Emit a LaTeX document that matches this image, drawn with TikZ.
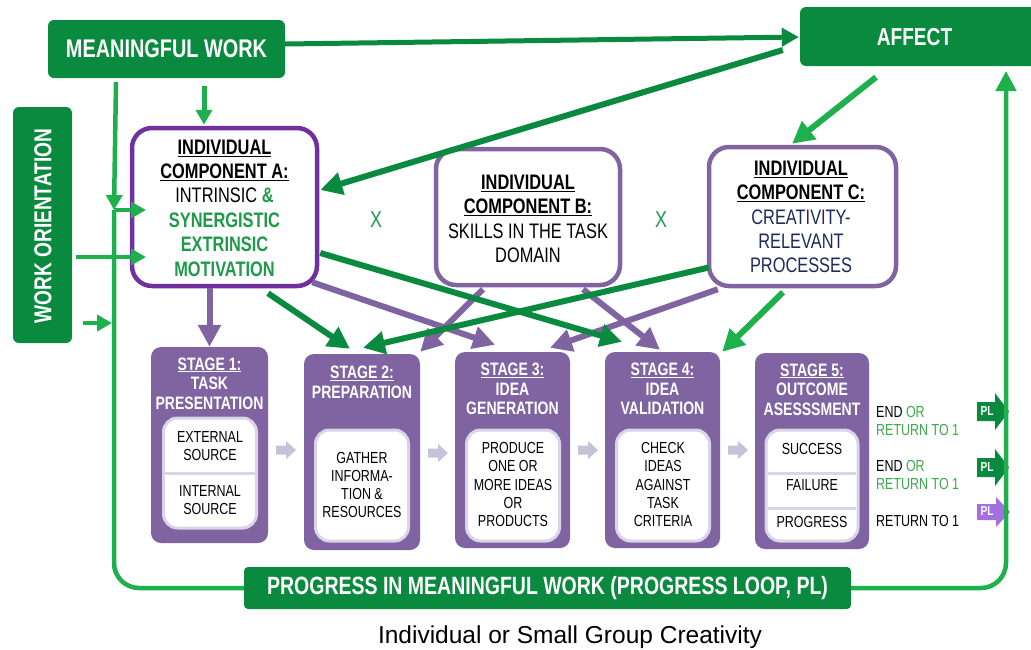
\documentclass[tikz,border=0pt]{standalone}
\usepackage{fontspec}
\setmainfont{Liberation Sans}
\newfontfamily\cf{Liberation Sans}[FakeStretch=0.78]
\usetikzlibrary{arrows.meta,calc}
\definecolor{dg}{HTML}{0A8A3F}
\definecolor{bg}{HTML}{1DB04C}
\definecolor{pu}{HTML}{8064A2}
\definecolor{dpu}{HTML}{7030A0}
\definecolor{lav}{HTML}{DAD4E8}
\definecolor{sar}{HTML}{C8C2D8}
\definecolor{navy}{HTML}{1F2A5C}
\definecolor{tg}{HTML}{1F9A4A}
\definecolor{og}{HTML}{3BAA4A}
\definecolor{vio}{HTML}{A46FE0}
\newcommand\fntA{\cf\fontsize{21}{24.4}\selectfont}
\newcommand\fntS{\cf\bfseries\fontsize{18}{19.6}\selectfont}
\newcommand\fntI{\cf\fontsize{16}{18.2}\selectfont}
\newcommand\fntR{\cf\fontsize{16}{18}\selectfont}
\newcommand\bu[1]{{\bfseries\underline{#1}}}
\newcommand\gb[1]{{\color{tg}\bfseries #1}}
\newcommand\nv[1]{{\color{navy}#1}}
\begin{document}
\begin{tikzpicture}[x=1pt,y=-1pt,
  gbox/.style={fill=dg, rounded corners=6pt, inner sep=0, text=white},
  comp/.style={draw=pu, line width=4.5pt, fill=white, rounded corners=20pt, inner sep=0},
  stagebox/.style={fill=pu, rounded corners=10pt, inner sep=0, minimum width=115pt, minimum height=196pt},
  inbox/.style={draw=lav, line width=3pt, fill=white, rounded corners=14pt, inner sep=0, minimum width=93pt},
  txt/.style={inner sep=0, align=center},
  sttxt/.style={txt, font=\fntS, text=white},
  intxt/.style={txt, font=\fntI},
  rtxt/.style={inner sep=0, anchor=west, font=\fntR},
  divline/.style={draw=lav, line width=3pt},
  parr/.style={draw=pu, line width=6pt, -{Triangle[length=22pt,width=22pt]}},
  garr/.style={draw=dg, line width=6pt, -{Triangle[length=22pt,width=22pt]}},
  loopline/.style={draw=bg, line width=4.5pt},
  larr/.style={draw=bg, line width=4.5pt, -{Triangle[length=15pt,width=16pt]}},
  sarrow/.style={fill=sar},
  pltxt/.style={inner sep=0, text=white, font=\cf\bfseries\fontsize{13}{15}\selectfont},
]
\useasboundingbox (0,0) rectangle (1031,649);
\clip (0,0) rectangle (1031,649);
\fill[white] (0,0) rectangle (1031,649);

% ---------- green boxes
\node[gbox, minimum width=237pt, minimum height=58pt, font=\cf\bfseries\fontsize{25.5}{28}\selectfont] (mw) at (166.5,49) {MEANINGFUL WORK};
\node[gbox, minimum width=240pt, minimum height=59pt] (af) at (920,36.5) {};
\node[inner sep=0, text=white, font=\cf\bfseries\fontsize{24.5}{28}\selectfont] (aft) at (914.5,37) {AFFECT};
\node[gbox, minimum width=59pt, minimum height=236pt] (wo) at (42.5,225) {};
\node[inner sep=0, text=white, rotate=90, font=\cf\bfseries\fontsize{24.5}{28}\selectfont] (wot) at (43,226) {WORK ORIENTATION};
\node[gbox, rounded corners=4pt, minimum width=607pt, minimum height=42pt, font=\cf\bfseries\fontsize{25}{28}\selectfont] (bar) at (547.5,588) {PROGRESS IN MEANINGFUL WORK (PROGRESS LOOP, PL)};

% ---------- components
\node[comp, draw=dpu, minimum width=185pt, minimum height=158pt] (A) at (224.5,207) {};
\node[comp, minimum width=184pt, minimum height=136pt] (B) at (528,217) {};
\node[comp, minimum width=187pt, minimum height=139pt] (C) at (802.5,216.5) {};

\node[txt, font=\fntA] (At) at (224.5,208) {\bu{INDIVIDUAL}\\\bu{COMPONENT A:}\\INTRINSIC \gb{\&}\\\gb{SYNERGISTIC}\\\gb{EXTRINSIC}\\\gb{MOTIVATION}};
\node[txt, font=\fntA] (Bt) at (528,219) {\bu{INDIVIDUAL}\\\bu{COMPONENT B:}\\SKILLS IN THE TASK\\DOMAIN};
\node[txt, font=\fntA] (Ct) at (801,217) {\bu{INDIVIDUAL}\\\bu{COMPONENT C:}\\\nv{CREATIVITY-}\\\nv{RELEVANT}\\\nv{PROCESSES}};

\node[inner sep=0, text=tg, font=\cf\fontsize{23}{26}\selectfont] (x1) at (376,220) {X};
\node[inner sep=0, text=tg, font=\cf\fontsize{23}{26}\selectfont] (x2) at (661,220) {X};

% ---------- stages
\node[stagebox, minimum width=117pt] (s1) at (209.5,445) {};
\node[stagebox, minimum width=116pt] (s2) at (362,452) {};
\node[stagebox] (s3) at (512.5,450) {};
\node[stagebox] (s4) at (662.5,450) {};
\node[stagebox, minimum width=114pt] (s5) at (812,451) {};

\node[sttxt] (s1t) at (209.5,383.5) {\underline{STAGE 1:}\\TASK\\PRESENTATION};
\node[sttxt] (s2t) at (362,382) {\underline{STAGE 2:}\\PREPARATION};
\node[sttxt] (s3t) at (512.5,389) {\underline{STAGE 3:}\\IDEA\\GENERATION};
\node[sttxt] (s4t) at (662.5,389) {\underline{STAGE 4:}\\IDEA\\VALIDATION};
\node[sttxt] (s5t) at (812,389.5) {\underline{STAGE 5:}\\OUTCOME\\ASESSSMENT};

\node[inbox, minimum height=110pt] (i1) at (210,473) {};
\node[inbox, minimum height=111pt] (i2) at (362,485.5) {};
\node[inbox, minimum height=111pt] (i3) at (513,485.5) {};
\node[inbox, minimum height=111pt] (i4) at (663,485.5) {};
\node[inbox, minimum height=111pt, minimum width=92pt] (i5) at (812,485.5) {};
\draw[divline] (165,473) -- (255,473);
\draw[divline] (768,473) -- (856,473);
\draw[divline] (768,508) -- (856,508);

\node[intxt] (i1a) at (210,446) {EXTERNAL\\SOURCE};
\node[intxt] (i1b) at (210,500) {INTERNAL\\SOURCE};
\node[intxt] (i2t) at (362,485) {GATHER\\INFORMA-\\TION \&\\RESOURCES};
\node[intxt] (i3t) at (513,484.5) {PRODUCE\\ONE OR\\MORE IDEAS\\OR\\PRODUCTS};
\node[intxt] (i4t) at (663,484.5) {CHECK\\IDEAS\\AGAINST\\TASK\\CRITERIA};
\node[intxt] (i5a) at (812,449) {SUCCESS};
\node[intxt] (i5b) at (812,485) {FAILURE};
\node[intxt] (i5c) at (812,522) {PROGRESS};

% small arrows between stages
\foreach \ax/\ay in {276/450, 428/453, 578/450, 728/450}{
  \fill[sarrow] (\ax,\ay-4.5) -- (\ax+10,\ay-4.5) -- (\ax+10,\ay-9) -- (\ax+20,\ay) -- (\ax+10,\ay+9) -- (\ax+10,\ay+4.5) -- (\ax,\ay+4.5) -- cycle;
}

% ---------- right texts and PL arrows
\node[rtxt] (r1a) at (876,412) {END \textcolor{og}{OR}};
\node[rtxt, text=og] (r1b) at (876,430) {RETURN TO 1};
\node[rtxt] (r2a) at (876,466) {END \textcolor{og}{OR}};
\node[rtxt, text=og] (r2b) at (876,484) {RETURN TO 1};
\node[rtxt] (r3) at (876,521) {RETURN TO 1};

\fill[dg] (977,402) -- (995,402) -- (995,393) -- (1009,411.5) -- (995,430) -- (995,421) -- (977,421) -- cycle;
\fill[dg] (977,458) -- (995,458) -- (995,449) -- (1009,467.5) -- (995,486) -- (995,477) -- (977,477) -- cycle;
\fill[vio] (977,504) -- (996,504) -- (996,497) -- (1010,512) -- (996,527) -- (996,520) -- (977,520) -- cycle;
\node[pltxt] (pl1) at (987,411) {PL};
\node[pltxt] (pl2) at (987,467) {PL};
\node[pltxt] (pl3) at (987,511) {PL};

% ---------- caption
\node[inner sep=0, anchor=base, font=\fontsize{24.5}{28}\selectfont] (cap) at (570,643) {Individual or Small Group Creativity};

% ---------- coordinates
\coordinate (lc) at (114,210);
\coordinate (ain1) at (146,210);
\coordinate (ain2) at (146,257);
\coordinate (lw) at (112,323);
\coordinate (afin) at (1006,71);

% ---------- loops
\draw[loopline] (bar.west) [rounded corners=25pt] -| ($(lc)+(0,150)$) [sharp corners] -- (lc);
\draw[larr] (lc) -- (ain1);
\draw[loopline, rounded corners=25pt, -{Triangle[length=20pt,width=20pt]}] (bar.east) -| (afin);
\draw[larr] ($(wo.east)+(4,32)$) -- (ain2);
\draw[larr] ($(wo.east)+(11,98)$) -- (lw);
\draw[larr] ($(mw.south)+(-50.5,4)$) -- (lc);
\draw[larr, line width=5pt] ($(mw.south)+(37.5,8)$) -- ($(A.north)+(-20.5,-1)$);

% ---------- top arrows
\draw[draw=dg, line width=5pt, -{Triangle[length=17pt,width=18pt]}] ($(mw.east)+(0,-5)$) -- ($(af.west)+(-1,0.5)$);
\draw[garr] ($(af.west)+(-17,13.5)$) -- ($(A.east)+(1,-17)$);
\draw[garr, draw=bg] ($(af.south)+(-44,11)$) -- ($(C.north)+(-10.5,-1)$);

% ---------- component to stage arrows
\draw[parr] (A.south -| s1.north) -- (s1.north);
\draw[parr] ($(A.south east)+(-7,-6)$) -- ($(s3.north)+(-17.5,-7)$);
\draw[parr] ($(B.south)+(-45,2)$) -- ($(s2.north east)+(0,-2)$);
\draw[parr] ($(B.south)+(55,2)$) -- ($(s4.north)+(-2.5,-2)$);
\draw[parr] ($(C.south west)+(11,1)$) -- ($(s3.north)+(37.5,-4)$);
\draw[garr] ($(A.south)+(43.5,5)$) -- ($(s2.north)+(-12,-5)$);
\draw[garr] ($(A.east)+(1,46)$) -- ($(s4.north)+(-40.5,-10)$);
\draw[garr] ($(C.west)+(2,51)$) -- ($(s2.north)+(1,-6)$);
\draw[garr, draw=bg] ($(C.south)+(-19.5,4)$) -- ($(s4.north east)+(2,0)$);
\end{tikzpicture}
\end{document}
